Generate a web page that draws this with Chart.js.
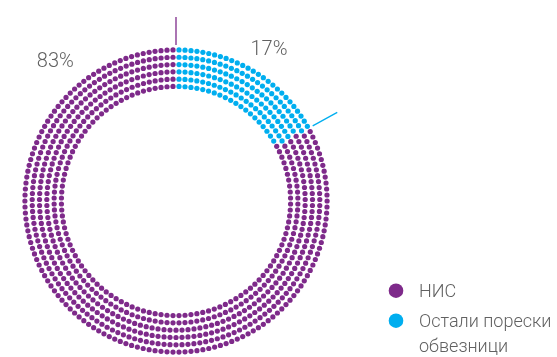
<!DOCTYPE html>
<html>
<head>
<meta charset="utf-8">
<style>
  html, body { margin: 0; padding: 0; background: #ffffff; }
  #wrap { position: relative; width: 557px; height: 357px; }
</style>
<script src="https://cdn.jsdelivr.net/npm/chart.js@4/dist/chart.umd.min.js"></script>
</head>
<body>
<div id="wrap"><canvas id="chart" width="557" height="357"></canvas></div>
<script>
// Shares of the tax base
const categories = ['НИС', 'Остали порески обвезници'];
const shares = [83, 17];
const percentLabels = ['83%', '17%'];
const colors = ['#7e2a8a', '#00aeef'];

const total = shares.reduce((a, b) => a + b, 0);
const TEXT_COLOR = '#616161';
const FONT = 'Roboto, "Open Sans", sans-serif';

function normAngle(a) {
  const t = Math.PI * 2;
  return ((a % t) + t) % t;
}
function inArc(props, a) {
  const span = props.endAngle - props.startAngle;
  return normAngle(a - props.startAngle) < span;
}

// Draws each slice as concentric rows of dots instead of a solid arc
const dottedRing = {
  id: 'dottedRing',
  beforeDatasetDraw() { return false; },
  afterDatasetsDraw(chart, args, opts) {
    const arcs = chart.getDatasetMeta(0).data;
    if (!arcs.length) return;
    const props = arcs.map(a => a.getProps(['x', 'y', 'startAngle', 'endAngle', 'innerRadius', 'outerRadius'], true));
    const { x, y, outerRadius } = props[0];
    const ctx = chart.ctx;
    ctx.save();
    for (let row = 0; row < opts.rows; row++) {
      const r = outerRadius - opts.dotRadius - 0.3 - row * opts.rowGap;
      const n = Math.round(2 * Math.PI * r / opts.dotGap);
      for (let k = 0; k < n; k++) {
        const a = -Math.PI / 2 + (k + 0.5) * 2 * Math.PI / n;
        const idx = props.findIndex(p => inArc(p, a));
        if (idx < 0) continue;
        ctx.fillStyle = arcs[idx].options.backgroundColor;
        ctx.beginPath();
        ctx.arc(x + r * Math.cos(a), y + r * Math.sin(a), opts.dotRadius, 0, Math.PI * 2);
        ctx.fill();
      }
    }
    // leader line at the closing edge of every slice, plus its percentage
    props.forEach((p, i) => {
      const a = p.endAngle;
      ctx.strokeStyle = arcs[i].options.backgroundColor;
      ctx.lineWidth = 1.3;
      ctx.beginPath();
      ctx.moveTo(x + (outerRadius + opts.leadFrom) * Math.cos(a), y + (outerRadius + opts.leadFrom) * Math.sin(a));
      ctx.lineTo(x + (outerRadius + opts.leadTo) * Math.cos(a), y + (outerRadius + opts.leadTo) * Math.sin(a));
      ctx.stroke();

      const la = a + opts.labelShift[i] * Math.PI / 180;
      const lr = opts.labelRadius[i];
      ctx.fillStyle = TEXT_COLOR;
      ctx.font = '300 20px ' + FONT;
      ctx.textAlign = 'center';
      ctx.textBaseline = 'middle';
      ctx.fillText(percentLabels[i], x + lr * Math.cos(la), y + lr * Math.sin(la));
    });
    ctx.restore();
  }
};

// Legend with round markers and wrapped labels
const dotLegend = {
  id: 'dotLegend',
  afterDraw(chart, args, opts) {
    const ctx = chart.ctx;
    const arcs = chart.getDatasetMeta(0).data;
    ctx.save();
    ctx.font = '300 18px ' + FONT;
    ctx.textAlign = 'left';
    ctx.textBaseline = 'alphabetic';
    let cy = opts.top;
    chart.data.labels.forEach((label, i) => {
      ctx.fillStyle = arcs[i].options.backgroundColor;
      ctx.beginPath();
      ctx.arc(opts.left, cy, opts.markerRadius, 0, Math.PI * 2);
      ctx.fill();
      const words = label.split(' ');
      const lines = [];
      let cur = '';
      words.forEach(w => {
        const test = cur ? cur + ' ' + w : w;
        if (cur && ctx.measureText(test).width > opts.maxWidth) { lines.push(cur); cur = w; }
        else cur = test;
      });
      if (cur) lines.push(cur);
      ctx.fillStyle = TEXT_COLOR;
      lines.forEach((ln, j) => {
        ctx.fillText(ln, opts.left + opts.textGap, cy + 6.5 + j * opts.lineHeight);
      });
      cy += opts.itemGap;
    });
    ctx.restore();
  }
};

new Chart(document.getElementById('chart'), {
  type: 'doughnut',
  data: {
    labels: categories,
    datasets: [{
      data: shares,
      backgroundColor: colors,
      borderWidth: 0,
      hoverOffset: 0
    }]
  },
  options: {
    responsive: false,
    animation: false,
    events: [],
    rotation: shares[1] / total * 360,
    cutout: '72%',
    layout: { padding: { left: 22, right: 227, top: 47, bottom: 2 } },
    plugins: {
      legend: { display: false },
      tooltip: { enabled: false },
      dottedRing: {
        rows: 6, rowGap: 7.3, dotGap: 6, dotRadius: 2.6,
        leadFrom: 2, leadTo: 30,
        labelShift: [-41, -29.5], labelRadius: [184, 177]
      },
      dotLegend: {
        left: 396, top: 290.7, markerRadius: 7.3, textGap: 23,
        maxWidth: 140, lineHeight: 25, itemGap: 30
      }
    }
  },
  plugins: [dottedRing, dotLegend]
});
</script>
</body>
</html>
